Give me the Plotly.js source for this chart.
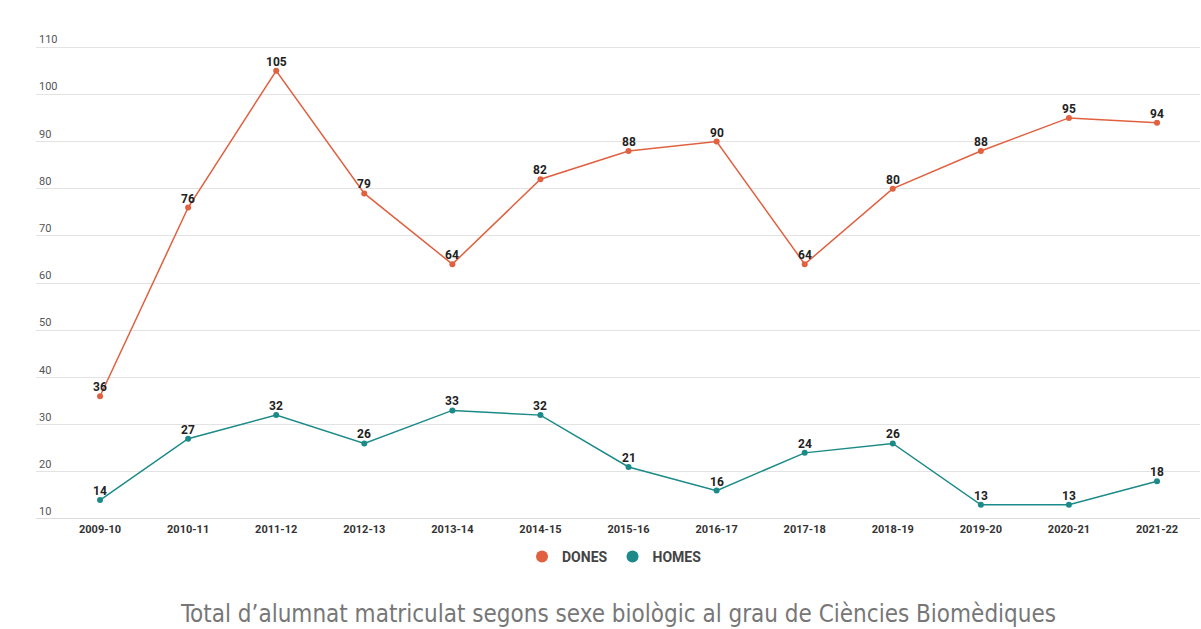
<!DOCTYPE html>
<html>
<head>
<meta charset="utf-8">
<script src="https://cdn.plot.ly/plotly-3.0.1.min.js"></script>
<style>html,body{margin:0;padding:0;background:#fff;}#chart{width:1201px;height:629px;}</style>
</head>
<body>
<div id="chart"></div>
<script>
const categories = ["2009-10","2010-11","2011-12","2012-13","2013-14","2014-15","2015-16","2016-17","2017-18","2018-19","2019-20","2020-21","2021-22"];
const dones = [36, 76, 105, 79, 64, 82, 88, 90, 64, 80, 88, 95, 94];
const homes = [14, 27, 32, 26, 33, 32, 21, 16, 24, 26, 13, 13, 18];
const yTicks = [10, 20, 30, 40, 50, 60, 70, 80, 90, 100, 110];
const titleText = "Total d’alumnat matriculat segons sexe biològic al grau de Ciències Biomèdiques";

const colDones = "#e0603f";
const colHomes = "#1b8a88";

function series(name, vals, color) {
  return {
    type: "scatter", mode: "lines+markers", name: name, showlegend: false,
    x: categories, y: vals,
    line: {color: color, width: 1.5},
    marker: {color: color, size: 6},
    cliponaxis: false, hoverinfo: "x+y"
  };
}
function legendItem(name, color) {
  return {type: "scatter", mode: "markers", name: name, x: [null], y: [null],
          marker: {color: color, size: 10}, showlegend: true};
}
function labels(vals) {
  return vals.map((v, i) => ({
    xref: "x", yref: "y", x: categories[i], y: v, text: String(v), showarrow: false,
    xanchor: "center", yanchor: "bottom", yshift: 0,
    font: {family: "Roboto", size: 12, color: "#222", weight: "bold"}
  }));
}

const data = [series("DONES", dones, colDones), series("HOMES", homes, colHomes),
              legendItem("DONES", colDones), legendItem("HOMES", colHomes)];

const layout = {
  width: 1201, height: 629,
  margin: {l: 36, r: 1, t: 33, b: 110},
  paper_bgcolor: "#fff", plot_bgcolor: "#fff",
  font: {family: "Roboto", color: "#444"},
  showlegend: true,
  legend: {orientation: "h", x: 0.497, xanchor: "center", y: -0.078, yanchor: "middle",
           font: {family: "Roboto", size: 14, color: "#444", weight: "bold"},
           traceorder: "normal", itemsizing: "constant", itemwidth: 30},
  xaxis: {type: "category", range: [-0.727, 12.488], showgrid: false, zeroline: false,
          showline: false, ticks: "", tickfont: {family: "Roboto", size: 11, color: "#333", weight: "bold"},
          ticklabelstandoff: 2},
  yaxis: {range: [9.98, 113], tickvals: yTicks, ticktext: yTicks.map(String),
          ticklabelposition: "inside top", showgrid: true, gridcolor: "#e3e3e3", gridwidth: 1,
          zeroline: false, showline: false, ticks: "",
          tickfont: {family: "Roboto", size: 11, color: "#555"}},
  shapes: [{type: "line", xref: "paper", yref: "y", x0: 0, x1: 1, y0: 10, y1: 10,
            line: {color: "#dcdcdc", width: 2}}],
  annotations: labels(dones).concat(labels(homes)).concat([
    {xref: "paper", yref: "paper", x: 0.5, y: -0.195, xanchor: "center", yanchor: "middle",
     text: titleText, showarrow: false,
     font: {family: "DejaVu Sans Condensed", stretch: "condensed", size: 24, color: "#777"}}])
};

Plotly.newPlot("chart", data, layout, {displayModeBar: false, staticPlot: true});
</script>
</body>
</html>
